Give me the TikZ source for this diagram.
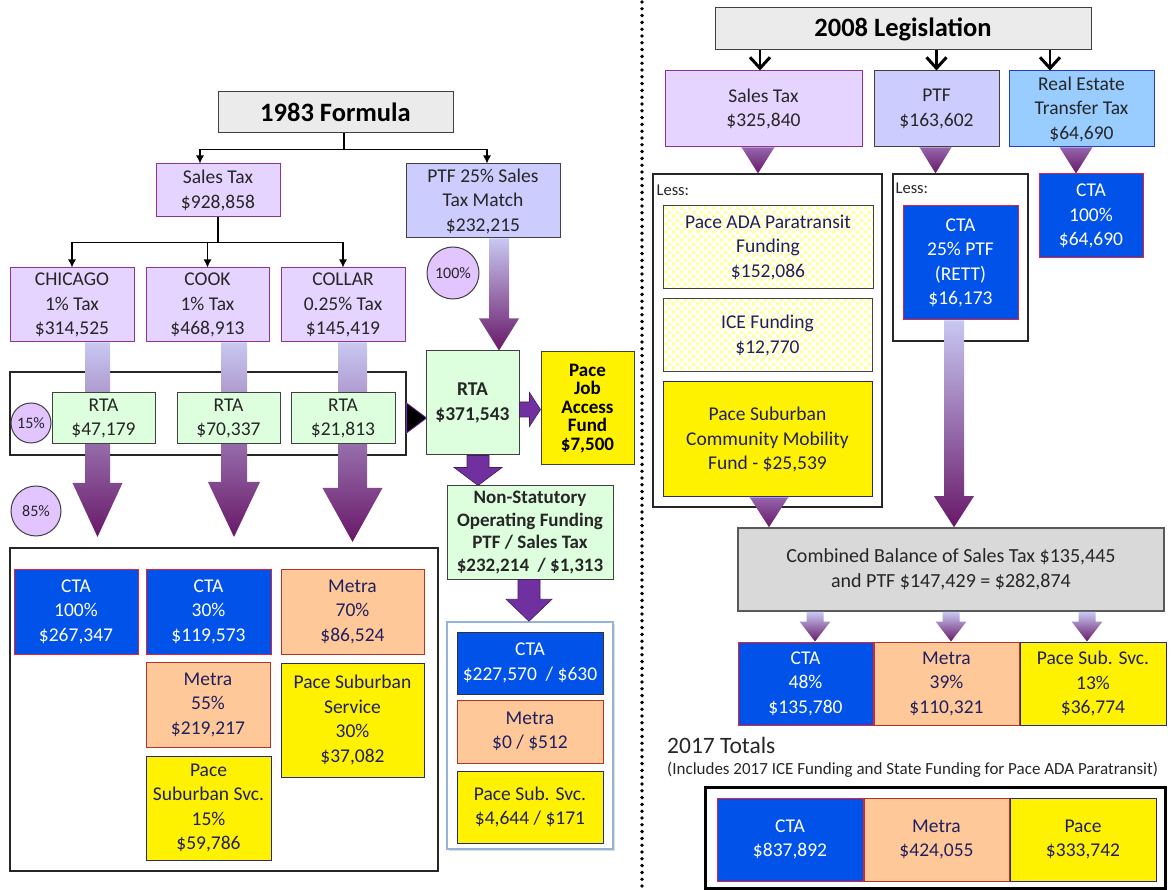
\documentclass[tikz,border=0pt]{standalone}
\usepackage{fontspec}
\setmainfont{Carlito}
\usetikzlibrary{positioning, calc, arrows.meta, patterns, shadows}

\definecolor{lilacfill}{RGB}{228,212,255}
\definecolor{lilacline}{RGB}{140,50,160}
\definecolor{ptffill}{RGB}{204,204,255}
\definecolor{refill}{RGB}{153,204,255}
\definecolor{reline}{RGB}{40,60,190}
\definecolor{darkline}{RGB}{64,64,64}
\definecolor{rtafill}{RGB}{221,255,221}
\definecolor{titlefill}{RGB}{235,235,235}
\definecolor{combfill}{RGB}{217,217,217}
\definecolor{ctafill}{RGB}{0,82,232}
\definecolor{ctaline}{RGB}{232,32,48}
\definecolor{metrafill}{RGB}{255,200,152}
\definecolor{metraline}{RGB}{176,52,40}
\definecolor{paceline}{RGB}{40,40,140}
\definecolor{navytext}{RGB}{32,32,96}
\definecolor{txt}{RGB}{38,38,38}
\definecolor{pctfill}{RGB}{226,196,255}
\definecolor{fadetop}{RGB}{200,200,242}
\definecolor{fadebot}{RGB}{104,24,104}
\definecolor{tritop}{RGB}{150,105,175}
\definecolor{arrowpurple}{RGB}{112,48,160}
\definecolor{chkyellow}{RGB}{255,255,170}
\definecolor{boxblue}{RGB}{149,179,215}

\newcommand{\mainfs}{\fontsize{19.5}{24.5}\selectfont}
\newcommand{\titlefs}{\fontsize{26.5}{30}\selectfont}
\newcommand{\pctfs}{\fontsize{16}{18}\selectfont}
\newcommand{\jobfs}{\fontsize{19}{18.6}\selectfont}
\newcommand{\nsfs}{\fontsize{19}{22.7}\selectfont}
\newcommand{\lessfs}{\fontsize{16.5}{18}\selectfont}
\newcommand{\combfs}{\fontsize{20}{25}\selectfont}
\newcommand{\totfs}{\fontsize{23.5}{26}\selectfont}
\newcommand{\incfs}{\fontsize{17}{19}\selectfont}

\pgfdeclarepatternformonly{checks}{\pgfpointorigin}{\pgfqpoint{8pt}{8pt}}{\pgfqpoint{8pt}{8pt}}{%
  \pgfpathrectangle{\pgfpointorigin}{\pgfqpoint{4pt}{4pt}}%
  \pgfpathrectangle{\pgfqpoint{4pt}{4pt}}{\pgfqpoint{4pt}{4pt}}%
  \pgfusepath{fill}}

% style, start, tip, half shaft, half head, head length
\newcommand{\vblock}[6]{\path[#1] let \p1=(#2), \p2=(#3) in
  (\x1-#4,\y1) -- (\x1-#4,\y2+#6) -- (\x1-#5,\y2+#6) -- (\x1,\y2) --
  (\x1+#5,\y2+#6) -- (\x1+#4,\y2+#6) -- (\x1+#4,\y1) -- cycle;}

\begin{document}
\begin{tikzpicture}[x=1pt, y=-1pt, node distance=0pt,
  box/.style={draw, line width=1pt, inner sep=0pt, align=center, text=txt, font=\mainfs},
  lilac/.style={box, fill=lilacfill, draw=lilacline},
  ptfbox/.style={box, fill=ptffill, draw=darkline},
  rebox/.style={box, fill=refill, draw=reline},
  rtabox/.style={box, fill=rtafill, draw=darkline},
  ctabox/.style={box, fill=ctafill, draw=ctaline, text=white},
  metrabox/.style={box, fill=metrafill, draw=metraline, text=navytext},
  pacebox/.style={box, fill=yellow, draw=paceline, text=navytext},
  chkbox/.style={box, draw=darkline, text=navytext, preaction={fill=white}, pattern=checks, pattern color=chkyellow},
  titlebox/.style={box, fill=titlefill, draw=darkline, text=black, font=\titlefs\bfseries},
  pct/.style={circle, draw=darkline, fill=pctfill, line width=1pt, inner sep=0pt, text=txt, font=\pctfs},
  frame/.style={draw=black!85, line width=1.2pt, inner sep=0pt},
  tree/.style={draw=black, line width=1.2pt, -{Latex[length=8pt,width=8pt]}},
  blk/.style={draw=black, line width=2.8pt, -{Straight Barb[length=11pt,width=20pt,line width=3pt]}},
  fade/.style={shade, top color=fadetop, bottom color=fadebot},
  trifade/.style={shade, top color=tritop, bottom color=fadebot},
  solidarrow/.style={fill=arrowpurple, draw=arrowpurple!60!black, line width=0.6pt},
  dotline/.style={line width=3.8pt, line cap=round, dash pattern=on 0pt off 6.8pt},
  note/.style={inner sep=0pt, anchor=west, text=txt}]
\useasboundingbox (0,0) rectangle (1176,890);

\node[titlebox, minimum width=235pt, minimum height=41pt] (f83) at (335.5,112.5) {1983 Formula};
\node[lilac, minimum width=124pt, minimum height=53pt] (st83) at (218,190.5) {Sales Tax\\\$928,858};
\node[ptfbox, minimum width=154pt, minimum height=74pt] (ptf83) at (483,201) {PTF 25\% Sales\\Tax Match\\\$232,215};
\node[lilac, minimum width=124pt, minimum height=74pt] (chi) at (72,305) {CHICAGO\\1\% Tax\\\$314,525};
\node[lilac, minimum width=123pt, minimum height=74pt] (cook) at (207.5,305) {COOK\\1\% Tax\\\$468,913};
\node[lilac, minimum width=124pt, minimum height=74pt] (collar) at (343,305) {COLLAR\\0.25\% Tax\\\$145,419};
\node[pct, minimum size=52pt] (p100) at (453,273) {100\%};
\draw[tree] ($(f83.south)+(8.5,0)$) -- ++(0,16) -| ($(st83.north)+(-18,0)$);
\draw[tree] ($(f83.south)+(8.5,0)$) ++(0,16) -| ($(ptf83.north)+(4,0)$);
\draw[tree] (st83.south) -- ++(0,25) -| (chi.north);
\draw[tree] (st83.south) -- ++(0,25) -| (cook.north);
\draw[tree] (st83.south) -- ++(0,25) -| (collar.north);

\node[frame, minimum width=396pt, minimum height=83pt] (rtarow) at (208,413.5) {};
\node[rtabox, font=\mainfs\bfseries, minimum width=93pt, minimum height=104pt] (rta) at (472.5,403) {RTA\\\$371,543};
\node[pacebox, draw=darkline, text=black, font=\jobfs\bfseries, minimum width=93pt, minimum height=113pt] (job) at (587.5,408.5) {Pace\\Job\\Access\\Fund\\\$7,500};
\node[rtabox, font=\nsfs\bfseries, minimum width=166pt, minimum height=93pt] (nonstat) at (530,532.5) {Non-Statutory\\Operating Funding\\PTF / Sales Tax\\\$232,214 ~/ \$1,313};
\node[frame, minimum width=428pt, minimum height=323pt] (lbox) at (224,709.5) {};
\node[draw=boxblue, line width=1.5pt, fill=white, inner sep=0pt, drop shadow={shadow xshift=2pt, shadow yshift=-2pt, opacity=0.25}, minimum width=166pt, minimum height=227pt] (rbox) at (530,735.5) {};

\coordinate (chiTip) at (97.5,537);
\coordinate (cookTip) at (234,537);
\coordinate (collarTip) at (352.5,542);
\vblock{fade}{$(chi.south)+(25.5,0)$}{chiTip}{12.5pt}{25pt}{54pt}
\vblock{fade}{$(cook.south)+(26.5,0)$}{cookTip}{13pt}{26pt}{55pt}
\vblock{fade}{$(collar.south)+(9.5,0)$}{collarTip}{14.5pt}{30pt}{54pt}
\vblock{fade}{$(ptf83.south)+(16,0)$}{rta.north}{10pt}{20pt}{32pt}
\vblock{solidarrow}{$(rta.south)+(5.5,0)$}{nonstat.north}{11pt}{24pt}{18pt}
\vblock{solidarrow}{$(nonstat.south)+(-1,0)$}{rbox.north}{11pt}{23pt}{22pt}
\path[solidarrow] let \p1=([yshift=-6.5pt]rta.east), \p2=(job.west) in
  (\x1,\y1+7.5pt) -- (\x2-11pt,\y1+7.5pt) -- (\x2-11pt,\y1+17pt) -- (\x2,\y1) --
  (\x2-11pt,\y1-17pt) -- (\x2-11pt,\y1-7.5pt) -- (\x1,\y1-7.5pt) -- cycle;
\draw[fill=black, draw=arrowpurple, line width=0.8pt] ([yshift=-4.5pt]rtarow.east) ++(0,-15) -- ++(20,15) -- ++(-20,15) -- cycle;

\node[rtabox, minimum width=103pt, minimum height=51pt] (rta1) at (103.5,418.5) {RTA\\\$47,179};
\node[rtabox, minimum width=103pt, minimum height=51pt] (rta2) at (228.5,418.5) {RTA\\\$70,337};
\node[rtabox, minimum width=104pt, minimum height=51pt] (rta3) at (343,418.5) {RTA\\\$21,813};
\node[pct, minimum size=40pt] (p15) at (31,423) {15\%};
\node[pct, minimum size=50pt] (p85) at (36,511) {85\%};

\node[ctabox, minimum width=124pt, minimum height=85pt] (cta100) at (76,611.5) {CTA\\100\%\\\$267,347};
\node[ctabox, minimum width=125pt, minimum height=85pt] (cta30) at (208.5,611.5) {CTA\\30\%\\\$119,573};
\node[metrabox, minimum width=143pt, minimum height=85pt] (metra70) at (352.5,611.5) {Metra\\70\%\\\$86,524};
\node[metrabox, minimum width=124pt, minimum height=85pt] (metra55) at (208,704.5) {Metra\\55\%\\\$219,217};
\node[pacebox, minimum width=125pt, minimum height=104pt] (pace15) at (208.5,808) {Pace\\Suburban Svc.\\15\%\\\$59,786};
\node[pacebox, minimum width=143pt, minimum height=114pt] (pace30) at (352.5,720) {Pace Suburban\\Service\\30\%\\\$37,082};

\node[ctabox, draw=black!80, minimum width=146pt, minimum height=62pt] (ctaL) at (530,663) {CTA\\\$227,570 ~/ \$630};
\node[metrabox, minimum width=146pt, minimum height=63pt] (metraL) at (530,731.5) {Metra\\\$0 / \$512};
\node[pacebox, minimum width=146pt, minimum height=72pt] (paceL) at (530,807) {Pace Sub. Svc.\\\$4,644 / \$171};

\draw[dotline] (642,2) -- (642,890);

\node[titlebox, minimum width=376pt, minimum height=42pt] (t08) at (903,29) {2008 Legislation};
\node[lilac, minimum width=197pt, minimum height=76pt] (st08) at (763.5,109) {Sales Tax\\\$325,840};
\node[ptfbox, minimum width=125pt, minimum height=76pt] (ptf08) at (936.5,109) {PTF\\\$163,602};
\node[rebox, minimum width=145pt, minimum height=76pt] (re08) at (1081.5,109) {Real Estate\\Transfer Tax\\\$64,690};
\draw[blk] ($(t08.south -| st08.north)+(-3.5,0)$) -- ($(st08.north)+(-3.5,0)$);
\draw[blk] (t08.south -| ptf08.north) -- (ptf08.north);
\draw[blk] ($(t08.south -| re08.north)+(-31.5,0)$) -- ($(re08.north)+(-31.5,0)$);

\node[frame, minimum width=229pt, minimum height=333pt] (lessA) at (767.5,340.5) {};
\node[note, font=\lessfs] (lessAtxt) at ($(lessA.north west)+(4,17)$) {Less:};
\node[chkbox, minimum width=210pt, minimum height=83pt] (ada) at (768,247.5) {Pace ADA Paratransit\\Funding\\\$152,086};
\node[chkbox, minimum width=209pt, minimum height=73pt] (ice) at (767.5,335.5) {ICE Funding\\\$12,770};
\node[pacebox, minimum width=209pt, minimum height=115pt] (psc) at (767.5,439.5) {Pace Suburban\\Community Mobility\\Fund - \$25,539};
\node[frame, minimum width=135pt, minimum height=167pt] (lessB) at (960.5,257.5) {};
\node[note, font=\lessfs] (lessBtxt) at ($(lessB.north west)+(3,15)$) {Less:};
\node[ctabox, minimum width=115pt, minimum height=114pt] (cta25) at (960.5,263) {CTA\\25\% PTF\\(RETT)\\\$16,173};
\node[ctabox, minimum width=104pt, minimum height=84pt] (cta100r) at (1091,216) {CTA\\100\%\\\$64,690};

\node[box, fill=combfill, draw=black!65, line width=1.6pt, font=\combfs, minimum width=426pt, minimum height=83pt] (comb) at (951,569.5) {Combined Balance of Sales Tax \$135,445\\and PTF \$147,429 = \$282,874};
\vblock{trifade}{$(st08.south)+(-5.5,0)$}{lessA.north}{17pt}{17pt}{27pt}
\vblock{trifade}{$(ptf08.south)+(-1,0)$}{lessB.north}{16.5pt}{16.5pt}{27pt}
\vblock{trifade}{$(re08.south)+(-5.5,0)$}{cta100r.north}{17pt}{17pt}{27pt}
\vblock{trifade}{$(psc.south)+(1.5,0)$}{comb.north}{20pt}{20pt}{31pt}
\vblock{fade}{$(cta25.south)+(-6.5,0)$}{comb.north}{10pt}{20pt}{31pt}

\node[ctabox, minimum width=135pt, minimum height=83pt] (ctaR) at (805.5,683.5) {CTA\\48\%\\\$135,780};
\node[metrabox, minimum width=145pt, minimum height=83pt, right=of ctaR] (metraR) {Metra\\39\%\\\$110,321};
\node[pacebox, minimum width=146pt, minimum height=83pt, right=of metraR] (paceR) {Pace Sub. Svc.\\13\%\\\$36,774};
\vblock{fade}{$(comb.south -| ctaR.north)+(9.5,0)$}{ctaR.north}{8.5pt}{15.5pt}{20pt}
\vblock{fade}{$(comb.south -| metraR.north)+(4.5,0)$}{metraR.north}{8.5pt}{15.5pt}{20pt}
\vblock{fade}{$(comb.south -| paceR.north)+(-6,0)$}{paceR.north}{8.5pt}{15.5pt}{20pt}

\node[note, font=\totfs] (tot) at (667,745) {2017 Totals};
\node[note, font=\incfs] (inc) at (667,770) {(Includes 2017 ICE Funding and State Funding for Pace ADA Paratransit)};
\node[draw=black, line width=3pt, inner sep=0pt, minimum width=460pt, minimum height=101pt] (totbox) at (935,837.5) {};
\node[ctabox, minimum width=146pt, minimum height=83pt] (ctaT) at (790,839.5) {CTA\\\$837,892};
\node[metrabox, minimum width=145pt, minimum height=83pt, right=of ctaT] (metraT) {Metra\\\$424,055};
\node[pacebox, minimum width=146pt, minimum height=83pt, right=of metraT] (paceT) {Pace\\\$333,742};
\end{tikzpicture}
\end{document}
